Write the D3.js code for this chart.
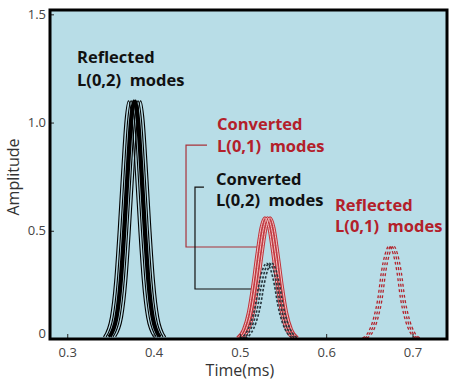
<!DOCTYPE html>
<html>
<head>
<meta charset="utf-8">
<script src="https://cdn.jsdelivr.net/npm/d3@7"></script>
<style>
  body { margin:0; background:#fff; }
  text { font-family:"Open Sans","Noto Sans",sans-serif; }
</style>
</head>
<body>
<svg></svg>
<script>
// tick labels
var xTicks = [0.3,0.4,0.5,0.6,0.7];
var yTicks = [0,0.5,1.0,1.5];

// reflected L(0,2) modes, black solid
var refL02Amp = [0.01,0.10,0.27,0.50,0.77,1.01,1.10,1.01,0.77,0.50,0.27,0.10,0.01];
var refL02Times = [
  [0.342,0.350,0.355,0.359,0.363,0.367,0.371,0.375,0.379,0.383,0.387,0.392,0.400],
  [0.345,0.353,0.358,0.362,0.366,0.370,0.374,0.378,0.382,0.386,0.390,0.395,0.403],
  [0.348,0.356,0.361,0.365,0.369,0.373,0.377,0.381,0.385,0.389,0.393,0.398,0.406],
  [0.350,0.358,0.363,0.367,0.371,0.375,0.379,0.383,0.387,0.391,0.395,0.400,0.408],
  [0.353,0.361,0.366,0.370,0.374,0.378,0.382,0.386,0.390,0.394,0.398,0.403,0.411],
  [0.356,0.364,0.369,0.373,0.377,0.381,0.385,0.389,0.393,0.397,0.401,0.406,0.414]
];
var refL02Thick = [false,false,true,true,false,false];

// converted L(0,1) modes, red solid
var convL01Amp = [0.005,0.043,0.126,0.25,0.40,0.515,0.56,0.515,0.40,0.25,0.126,0.043,0.005];
var convL01Times = [
  [0.497,0.504,0.510,0.515,0.520,0.5245,0.529,0.5335,0.538,0.543,0.548,0.554,0.561],
  [0.500,0.507,0.513,0.518,0.523,0.5275,0.532,0.5365,0.541,0.546,0.551,0.557,0.564],
  [0.503,0.510,0.516,0.521,0.526,0.5305,0.535,0.5395,0.544,0.549,0.554,0.560,0.567]
];

// converted L(0,2) modes, black dashed
var convL02Amp = [0.004,0.027,0.079,0.156,0.25,0.322,0.35,0.322,0.25,0.156,0.079,0.027,0.004];
var convL02Times = [
  [0.500,0.507,0.513,0.518,0.522,0.5265,0.531,0.5355,0.540,0.544,0.549,0.555,0.562],
  [0.503,0.510,0.516,0.521,0.525,0.5295,0.534,0.5385,0.543,0.547,0.552,0.558,0.565],
  [0.506,0.513,0.519,0.524,0.528,0.5325,0.537,0.5415,0.546,0.550,0.555,0.561,0.568]
];

// reflected L(0,1) modes, red dashed
var refL01Amp = [0.004,0.033,0.097,0.19,0.31,0.395,0.43,0.395,0.31,0.19,0.097,0.033,0.004];
var refL01Times = [
  [0.642,0.649,0.655,0.660,0.664,0.6685,0.673,0.6775,0.682,0.686,0.691,0.697,0.704],
  [0.6445,0.6515,0.6575,0.6625,0.6665,0.671,0.6755,0.680,0.6845,0.6885,0.6935,0.6995,0.7065],
  [0.647,0.654,0.660,0.665,0.669,0.6735,0.678,0.6825,0.687,0.691,0.696,0.702,0.709]
];

// labels and leader lines (data units)
var labels = [
  {lines:["Reflected","L(0,2)  modes"], t:0.3113, a:[1.275,1.169], color:"#111"},
  {lines:["Converted","L(0,1)  modes"], t:0.4735, a:[0.966,0.864], color:"#b3202a"},
  {lines:["Converted","L(0,2)  modes"], t:0.4723, a:[0.711,0.614], color:"#111"},
  {lines:["Reflected","L(0,1)  modes"], t:0.6102, a:[0.591,0.494], color:"#b3202a"}
];
var leaders = [
  {pts:[[0.4619,0.896],[0.4376,0.896],[0.4376,0.425],[0.5256,0.425]], color:"#a8323a"},
  {pts:[[0.4584,0.702],[0.448,0.702],[0.448,0.231],[0.5233,0.231]], color:"#111"}
];

var drawGraph = function()
{
  var screen = {width:454, height:385};

  var svg = d3.select("svg")
              .attr("width",screen.width)
              .attr("height",screen.height);

  var margins = {top:10, bottom:46, left:50, right:7};
  var width = screen.width - margins.left - margins.right;
  var height = screen.height - margins.top - margins.bottom;

  var xScale = d3.scaleLinear()
                 .domain([0.28,0.74])
                 .range([0,width]);

  var yScale = d3.scaleLinear()
                 .domain([0,1.52])
                 .range([height,0]);

  var plot = svg.append("g")
                .attr("transform","translate("+margins.left+","+margins.top+")");

  plot.append("clipPath").attr("id","clip")
      .append("rect").attr("width",width).attr("height",height);

  plot.append("rect")
      .attr("width",width)
      .attr("height",height)
      .attr("fill","#b8dde7");

  var line = d3.line()
               .x(function(d) {return xScale(d[0])})
               .y(function(d) {return yScale(d[1])})
               .curve(d3.curveMonotoneX);

  var zipIt = function(times,amps)
  {
    return times.map(function(t,i) {return [t,amps[i]]});
  }

  var curves = plot.append("g").attr("clip-path","url(#clip)");

  // leader lines
  curves.selectAll(".leader")
        .data(leaders)
        .enter()
        .append("path")
        .attr("d",function(d) {return d3.line()
              .x(function(p) {return xScale(p[0])})
              .y(function(p) {return yScale(p[1])})(d.pts)})
        .attr("fill","none")
        .attr("stroke",function(d) {return d.color})
        .attr("stroke-width",1.2);

  // black solid
  curves.selectAll(".refL02")
        .data(refL02Times)
        .enter()
        .append("path")
        .attr("d",function(d) {return line(zipIt(d,refL02Amp))})
        .attr("fill","none")
        .attr("stroke","#000")
        .attr("stroke-width",function(d,i) {return refL02Thick[i] ? 2.6 : 1.1});

  // red solid, hollow look
  curves.selectAll(".convL01")
        .data(convL01Times)
        .enter()
        .append("path")
        .attr("d",function(d) {return line(zipIt(d,convL01Amp))})
        .attr("fill","none")
        .attr("stroke","#c0333b")
        .attr("stroke-width",3);
  curves.selectAll(".convL01in")
        .data(convL01Times)
        .enter()
        .append("path")
        .attr("d",function(d) {return line(zipIt(d,convL01Amp))})
        .attr("fill","none")
        .attr("stroke","#f2c4c4")
        .attr("stroke-width",1);

  // black dashed
  curves.selectAll(".convL02")
        .data(convL02Times)
        .enter()
        .append("path")
        .attr("d",function(d) {return line(zipIt(d,convL02Amp))})
        .attr("fill","none")
        .attr("stroke","#26353d")
        .attr("stroke-width",1.6)
        .attr("stroke-dasharray","2.5,1.8");

  // red dashed
  curves.selectAll(".refL01")
        .data(refL01Times)
        .enter()
        .append("path")
        .attr("d",function(d) {return line(zipIt(d,refL01Amp))})
        .attr("fill","none")
        .attr("stroke","#b3262f")
        .attr("stroke-width",1.3)
        .attr("stroke-dasharray","3,2.5");

  // labels
  var labelG = plot.selectAll(".label")
                   .data(labels)
                   .enter()
                   .append("text")
                   .attr("fill",function(d) {return d.color})
                   .style("font-size","16.5px")
                   .style("font-weight","bold")
                   .style("white-space","pre");

  labelG.selectAll("tspan")
        .data(function(d) {return d.lines.map(function(s,i) {return {s:s,t:d.t,a:d.a[i]}})})
        .enter()
        .append("tspan")
        .attr("x",function(d) {return xScale(d.t)})
        .attr("y",function(d) {return yScale(d.a)})
        .text(function(d) {return d.s});

  // axes
  var xAxis = d3.axisTop(xScale).tickValues(xTicks).tickSize(5).tickFormat(d3.format(".1f"));
  var xg = plot.append("g")
               .attr("transform","translate(0,"+height+")")
               .call(xAxis);
  xg.select(".domain").remove();
  xg.selectAll("line").attr("stroke","#222");
  xg.selectAll("text")
    .attr("y",13)
    .attr("dy","0.35em")
    .attr("fill","#444")
    .style("font-size","13px")
    .style("font-family","'Open Sans',sans-serif");

  var yAxis = d3.axisRight(yScale).tickValues(yTicks).tickSize(4)
                .tickFormat(function(d) {return d===0 ? "0" : d3.format(".1f")(d)});
  var yg = plot.append("g").call(yAxis);
  yg.select(".domain").remove();
  yg.selectAll("line").attr("stroke","#222");
  yg.selectAll("text")
    .attr("x",-4)
    .attr("text-anchor","end")
    .attr("fill","#444")
    .style("font-size","13px")
    .style("font-family","'Open Sans',sans-serif");
  yg.selectAll(".tick")
    .filter(function(d) {return d===0})
    .select("text").attr("dy","-0.1em");

  // frame
  plot.append("rect")
      .attr("width",width)
      .attr("height",height)
      .attr("fill","none")
      .attr("stroke","#000")
      .attr("stroke-width",3);

  svg.append("text")
     .attr("x",margins.left+xScale(0.5))
     .attr("y",376)
     .attr("text-anchor","middle")
     .attr("fill","#333")
     .style("font-size","16px")
     .text("Time(ms)");

  svg.append("text")
     .attr("transform","translate(19,177) rotate(-90)")
     .attr("text-anchor","middle")
     .attr("fill","#333")
     .style("font-size","16px")
     .text("Amplitude");
}

drawGraph();
</script>
</body>
</html>
